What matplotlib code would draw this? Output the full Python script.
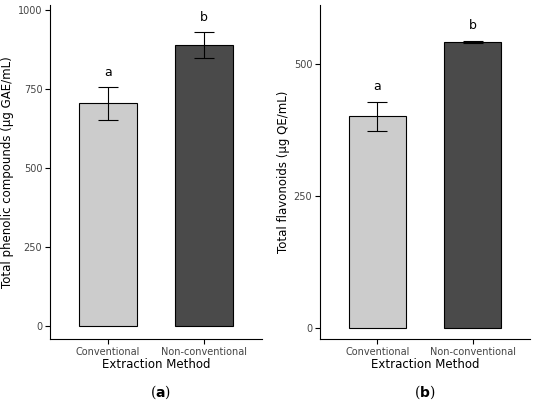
import matplotlib.pyplot as plt

methods = ["Conventional", "Non-conventional"]
phenolic = [705, 890]
phenolic_err = [52, 40]
flavonoids = [401, 542]
flavonoids_err = [28, 2]
letters = ["a", "b"]
colors = ["#cccccc", "#4a4a4a"]

fig = plt.figure(figsize=(5.44, 4.08), dpi=100)
ax1 = fig.add_axes([50/544, 1-339/408, 212/544, 334/408])
ax2 = fig.add_axes([320/544, 1-339/408, 210/544, 334/408])

panels = [
    (ax1, phenolic, phenolic_err, "Total phenolic compounds (µg GAE/mL)", (-40, 1016), [0, 250, 500, 750, 1000], 25, "(a)", 161),
    (ax2, flavonoids, flavonoids_err, "Total flavonoids (µg QE/mL)", (-21, 612), [0, 250, 500], 16, "(b)", 425),
]
for ax, vals, errs, ylab, ylim, yt, off, tag, tx in panels:
    x = [1, 2]
    ax.bar(x, vals, width=0.6, color=colors, edgecolor="black", linewidth=0.8)
    ax.errorbar(x, vals, yerr=errs, fmt="none", ecolor="black", elinewidth=0.8, capsize=7, capthick=0.8)
    for xi, v, e, l in zip(x, vals, errs, letters):
        ax.text(xi, v + e + off, l, ha="center", va="bottom", fontsize=9)
    ax.set_xlim(0.4, 2.6)
    ax.set_ylim(*ylim)
    ax.set_yticks(yt)
    ax.set_xticks(x)
    ax.set_xticklabels(methods, fontsize=7, color="#444444")
    ax.tick_params(axis="both", labelsize=7, labelcolor="#444444", pad=2)
    ax.set_ylabel(ylab, fontsize=8.5, labelpad=3)
    ax.set_xlabel("Extraction Method", fontsize=8.5, labelpad=1)
    for s in ["top", "right"]:
        ax.spines[s].set_visible(False)
    fig.text(tx/544, 1-392/408, tag[0] + r"$\mathbf{" + tag[1] + "}$" + tag[2],
             ha="center", va="center", fontsize=10, fontfamily="DejaVu Serif")

fig.savefig("out.png", dpi=100)
